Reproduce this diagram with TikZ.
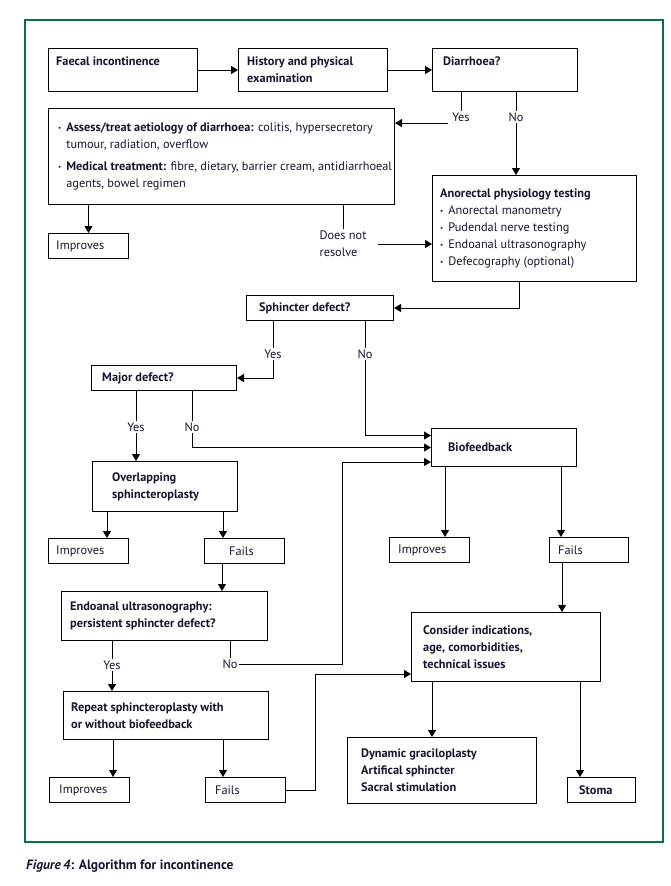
\documentclass[tikz,border=0pt]{standalone}
\usepackage{fontspec}
\setmainfont{PT Sans}
\usetikzlibrary{arrows.meta,positioning}
\definecolor{ink}{HTML}{15152E}
\definecolor{framegreen}{HTML}{0B7040}
\newcommand{\chartfont}{\fontsize{12.3pt}{17pt}\selectfont}
\newcommand{\bul}{\raisebox{0.15ex}{\scriptsize\textbullet}\hspace{5pt}}

\begin{document}
\begin{tikzpicture}[x=1pt,y=-1pt,
    font=\chartfont,
    >={Triangle[length=7pt,width=8pt]},
    box/.style={draw=black,line width=1pt,anchor=north west,inner sep=0pt},
    txt/.style={anchor=west,align=left,inner sep=0pt,text=ink},
    btxt/.style={txt,font=\chartfont\bfseries},
    lbl/.style={inner sep=1.5pt,text=ink,align=left},
    link/.style={line width=1pt,draw=black}]
  \useasboundingbox (0,0) rectangle (670,886);
  \draw[framegreen,line width=1.4pt] (25,20) rectangle (663,842);

  % boxes: name/x/y/width/height
  \foreach \n/\x/\y/\w/\h in {fi/48/48/149/43, hist/238/48/149/43, diar/432/48/145/43,
      assess/48/108/346/96, imp1/48/233/80/25, anor/432/175/204/106,
      sph/246/295/147/25, maj/91/365/145/25, ovl/92/461/145/50,
      imp2/48/538/80/25, fail2/204/538/80/25, bio/431/428/145/38,
      imp4/389/537/80/25, fail4/549/537/79/25, endo/61/591/206/49,
      rep/63/691/205/48, imp3/49/777/80/25, fail3/205/777/80/25,
      cons/411/612/189/69, dyn/347/737/189/66, stoma/567/777/68/25}
  {
    \node[box,minimum width=\w pt,minimum height=\h pt] (\n) at (\x,\y) {};
  }

  % texts
  \node[btxt,anchor=north west] (fi-t) at ([shift={(8pt,-9pt)}]fi.north west) {Faecal incontinence};
  \node[btxt,right=9pt of hist.west] (hist-t) {History and physical\\examination};
  \node[btxt,anchor=north west] (diar-t) at ([shift={(11pt,-9pt)}]diar.north west) {Diarrhoea?};
  \node[txt,right=10pt of assess.west] (assess-t) {\bul\textbf{Assess/treat aetiology of diarrhoea:} colitis, hypersecretory\\
    \hphantom{\bul}tumour, radiation, overflow\\[5pt]
    \bul\textbf{Medical treatment:} fibre, dietary, barrier cream, antidiarrhoeal\\
    \hphantom{\bul}agents, bowel regimen};
  \node[txt,right=8pt of imp1.west] (imp1-t) {Improves};
  \node[txt,right=8pt of anor.west] (anor-t) {\textbf{Anorectal physiology testing}\\
    \bul Anorectal manometry\\
    \bul Pudendal nerve testing\\
    \bul Endoanal ultrasonography\\
    \bul Defecography (optional)};
  \node[btxt,right=13pt of sph.west] (sph-t) {Sphincter defect?};
  \node[btxt,right=11pt of maj.west] (maj-t) {Major defect?};
  \node[btxt,right=20pt of ovl.west] (ovl-t) {Overlapping\\sphincteroplasty};
  \node[txt,right=8pt of imp2.west] (imp2-t) {Improves};
  \node[txt,right=25pt of fail2.west] (fail2-t) {Fails};
  \node[btxt,right=17pt of bio.west] (bio-t) {Biofeedback};
  \node[txt,right=9pt of imp4.west] (imp4-t) {Improves};
  \node[txt,right=9pt of fail4.west] (fail4-t) {Fails};
  \node[btxt,right=9pt of endo.west] (endo-t) {Endoanal ultrasonography:\\persistent sphincter defect?};
  \node[btxt,right=8pt of rep.west] (rep-t) {Repeat sphincteroplasty with\\or without biofeedback};
  \node[txt,right=10pt of imp3.west] (imp3-t) {Improves};
  \node[txt,right=10pt of fail3.west] (fail3-t) {Fails};
  \node[btxt,right=12pt of cons.west] (cons-t) {Consider indications,\\age, comorbidities,\\technical issues};
  \node[btxt,right=14pt of dyn.west] (dyn-t) {Dynamic graciloplasty\\Artifical sphincter\\Sacral stimulation};
  \node[btxt,right=12pt of stoma.west] (stoma-t) {Stoma};

  % top row
  \draw[link,->] (fi.east) -- (hist.west);
  \draw[link,->] (hist.east) -- (diar.west);

  % diarrhoea?
  \node[lbl] (d-yes) at (461,117) {Yes};
  \node[lbl] (d-no) at (516,117) {No};
  \draw[link] (d-yes |- diar.south) -- (d-yes);
  \draw[link,->] ([xshift=-3pt]d-yes.south west) -- (d-yes.south west -| assess.east);
  \draw[link] (d-no |- diar.south) -- (d-no);
  \draw[link,->] (d-no) -- (d-no |- anor.north);

  \draw[link,->] (imp1 |- assess.south) -- (imp1);
  \node[lbl] (dnr) at (343,244) {Does not\\resolve};
  \draw[link] (dnr |- assess.south) -- (dnr);
  \draw[link,->] ([xshift=10pt]dnr.east) -- (dnr.east -| anor.west);

  % sphincter defect?
  \draw[link,->] ([xshift=87pt]anor.south west) |- (sph.east);
  \node[lbl] (s-yes) at (273,354) {Yes};
  \node[lbl] (s-no) at (365,354) {No};
  \draw[link] (s-yes |- sph.south) -- (s-yes);
  \draw[link,->] (s-yes) |- (maj.east);
  \draw[link] (s-no |- sph.south) -- (s-no);
  \draw[link,->] (s-no) |- ([yshift=12pt]bio.west);

  % major defect?
  \node[lbl] (m-yes) at (136,427) {Yes};
  \node[lbl] (m-no) at (192,427) {No};
  \draw[link] (m-yes |- maj.south) -- (m-yes);
  \draw[link,->] (m-yes) -- (m-yes |- ovl.north);
  \draw[link] (m-no |- maj.south) -- (m-no);
  \draw[link,->] (m-no) |- (bio.west);

  % sphincteroplasty
  \draw[link,->] ([xshift=15pt]ovl.south west) -- ([xshift=15pt]ovl.south west |- imp2.north);
  \draw[link,->] ([xshift=-15pt]ovl.south east) -- ([xshift=-15pt]ovl.south east |- fail2.north);
  \draw[link,->] ([xshift=18pt]fail2.south west) -- ([xshift=18pt]fail2.south west |- endo.north);

  % endoanal ultrasonography
  \node[lbl] (e-yes) at (112,665) {Yes};
  \node[lbl] (e-no) at (230,664) {No};
  \draw[link] (e-yes |- endo.south) -- (e-yes);
  \draw[link,->] (e-yes) -- (e-yes |- rep.north);
  \draw[link] (e-no |- endo.south) -- (e-no);
  \coordinate (ret1) at (342,462);
  \draw[link,->] (e-no) -| (ret1) -- (ret1 -| bio.west);

  % repeat sphincteroplasty
  \draw[link,->] ([xshift=50pt]rep.south west) -- ([xshift=50pt]rep.south west |- imp3.north);
  \draw[link,->] ([xshift=-46pt]rep.south east) -- ([xshift=-46pt]rep.south east |- fail3.north);
  \coordinate (ret2) at (315,674);
  \draw[link,->] (fail3) -| (ret2) -- (ret2 -| cons.west);

  % biofeedback
  \draw[link,->] ([xshift=14pt]bio.south west) -- ([xshift=14pt]bio.south west |- imp4.north);
  \draw[link,->] ([xshift=-16pt]bio.south east) -- ([xshift=-16pt]bio.south east |- fail4.north);
  \draw[link,->] ([xshift=13pt]fail4.south west) -- ([xshift=13pt]fail4.south west |- cons.north);

  % consider
  \draw[link,->] ([xshift=21pt]cons.south west) -- ([xshift=21pt]cons.south west |- dyn.north);
  \draw[link,->] ([xshift=-21pt]cons.south east) -- ([xshift=-21pt]cons.south east |- stoma.north);

  \node[txt,font=\fontsize{13.5pt}{15pt}\selectfont\bfseries] (cap) at (26,866) {\textit{Figure\,4}: Algorithm for incontinence};
\end{tikzpicture}
\end{document}
